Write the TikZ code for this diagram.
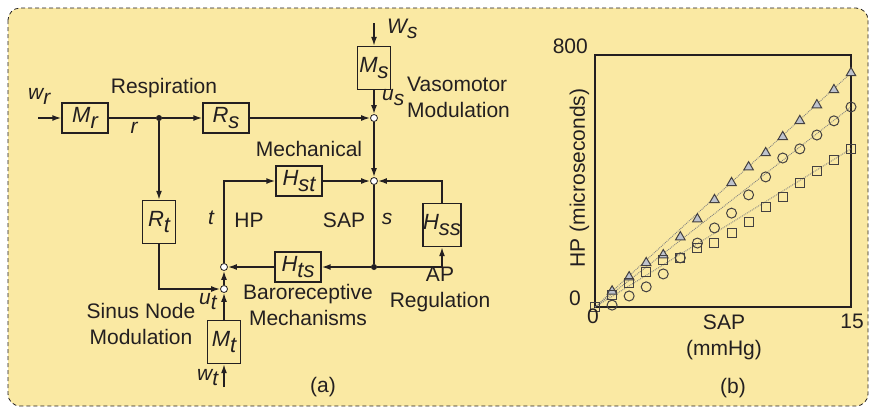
\documentclass[tikz,border=0pt]{standalone}
\usepackage{fontspec}
\setmainfont{Liberation Sans}
\usepackage{tikz}
\usetikzlibrary{arrows.meta,plotmarks}

\definecolor{panelbg}{RGB}{250,233,163}
\definecolor{ink}{RGB}{35,31,32}
\definecolor{markfill}{RGB}{190,195,205}
\newcommand{\sig}[2]{#1\raisebox{-0.25em}{#2}}
\newcommand{\txtsize}{\fontsize{21}{26}\selectfont}
\newcommand{\boxsize}{\fontsize{22}{24}\selectfont\itshape}

\begin{document}
\begin{tikzpicture}[x=1pt, y=-1pt, color=ink]
  \tikzstyle{wide} = [draw, line width=1.4pt, minimum width=46pt,
    minimum height=30pt, inner sep=0pt, font=\boxsize]
  \tikzstyle{tall} = [draw, line width=1.4pt, minimum width=33pt,
    minimum height=43pt, inner sep=0pt, font=\boxsize]
  \tikzstyle{sum} = [circle, draw, line width=0.8pt, fill=white,
    minimum size=7pt, inner sep=0pt]
  \tikzstyle{dot} = [circle, fill, minimum size=6pt, inner sep=0pt]
  \tikzstyle{arr} = [line width=1.5pt, -{Latex[length=9pt,width=6pt]}]
  \tikzstyle{wire} = [line width=1.5pt]
  \tikzstyle{txt} = [font=\txtsize, inner sep=0pt]
  \tikzstyle{var} = [font=\txtsize\itshape, inner sep=0pt]
  \tikzstyle{fit line} = [gray, densely dotted, line width=0.9pt]

  \useasboundingbox (0,0) rectangle (870,408);
  \draw[dash pattern=on 4pt off 3pt, line width=0.8pt, rounded corners=12pt,
    fill=panelbg] (8,8) rectangle (868,406);

  % (a) block diagram
  \node[wide] (Mr) at (85,118) {\sig{M}{r}};
  \node[wide] (Rs) at (226,118) {\sig{R}{s}};
  \node[tall] (Ms) at (374,68) {\sig{M}{s}};
  \node[wide] (Hst) at (299,181) {\sig{H}{st}};
  \node[wide] (Hts) at (298,267) {\sig{H}{ts}};
  \node[tall] (Hss) at (442,225) {\sig{H}{ss}};
  \node[tall] (Rt) at (159,222) {\sig{R}{t}};
  \node[tall] (Mt) at (224,342) {\sig{M}{t}};

  \node[dot] (jr) at (159,118) {};
  \node[dot] (js) at (374,267) {};
  \node[sum] (vs) at (374,118) {};
  \node[sum] (ps) at (374,181) {};
  \node[sum] (hs) at (224,267) {};
  \node[sum] (ts) at (224,289) {};

  \coordinate (wr) at (38,118);
  \coordinate (ws) at (374,23);
  \coordinate (wt) at (224,387);

  \draw[arr] (wr) -- (Mr);
  \draw[wire] (Mr) -- (jr);
  \draw[arr] (jr) -- (Rs);
  \draw[arr] (Rs) -- (vs);
  \draw[arr] (ws) -- (Ms);
  \draw[arr] (Ms) -- (vs);
  \draw[arr] (vs) -- (ps);
  \draw[wire] (ps) -- (js);
  \draw[arr] (js) -- (Hts);
  \draw[arr] (js) -| (Hss);
  \draw[arr] (Hss) |- (ps);
  \draw[arr] (Hts) -- (hs);
  \draw[arr] (hs) |- (Hst);
  \draw[arr] (Hst) -- (ps);
  \draw[arr] (jr) -- (Rt);
  \draw[arr] (Rt) |- (ts);
  \draw[arr] (Mt) -- (ts);
  \draw[arr] (ts) -- (hs);
  \draw[arr] (wt) -- (Mt);

  \node[var, anchor=base west] (lwr) at (28,99) {\sig{w}{r}};
  \node[var, anchor=base] (lr) at (134,133) {r};
  \node[var, anchor=base west] (lws) at (387,33) {\sig{W}{s}};
  \node[var, anchor=base west] (lus) at (382,100) {\sig{u}{s}};
  \node[var, anchor=base west] (lut) at (199,304) {\sig{u}{t}};
  \node[var, anchor=base west] (lwt) at (197,380) {\sig{w}{t}};
  \node[var, anchor=base] (lt) at (211,224) {t};
  \node[var, anchor=base] (ls) at (387,224) {s};

  \node[txt, anchor=base] (resp) at (164,93) {Respiration};
  \node[txt, anchor=north west, align=left] (vaso) at (407,77)
    {Vasomotor\\Modulation};
  \node[txt, anchor=base] (mech) at (309,156) {Mechanical};
  \node[txt, anchor=base] (hp) at (249,227) {HP};
  \node[txt, anchor=base] (sap) at (344,227) {SAP};
  \node[txt, anchor=north, align=center] (baro) at (308,284)
    {Baroreceptive\\Mechanisms};
  \node[txt, anchor=north, align=center] (apreg) at (440,267)
    {AP\\Regulation};
  \node[txt, anchor=north, align=center] (sinus) at (141,303)
    {Sinus Node\\Modulation};
  \node[txt, anchor=base] (capa) at (323,392) {(a)};

  % (b) HP versus SAP
  \begin{scope}[shift={(595,307)}, x=17.0667pt, y=0.315pt]
    \draw[line width=1.4pt] (0,0) rectangle (15,800);
    \draw[fit line] (0,0) -- (15,743);
    \draw[fit line] (0,0) -- (15,635);
    \draw[fit line] (0,0) -- (15,502);
    \draw[line width=1pt] plot[only marks, mark=triangle*,
      mark options={fill=markfill, draw=ink!85}, mark size=5.5pt] coordinates {
      (1,50) (2,95) (3,140) (4,165) (5,222) (6,279) (7,340) (8,394)
      (9,444) (10,489) (11,540) (12,591) (13,641) (14,689) (15,743)};
    \draw[line width=1pt] plot[only marks, mark=o,
      mark options={draw=ink!85}, mark size=5pt] coordinates {
      (1,6) (2,35) (3,64) (4,105) (5,156) (6,203) (7,251) (8,298)
      (9,356) (10,413) (11,473) (12,502) (13,546) (14,591) (15,635)};
    \draw[line width=1pt] plot[only marks, mark=square,
      mark options={draw=ink!85}, mark size=4.5pt] coordinates {
      (0,0) (1,38) (2,76) (3,111) (4,149) (5,156) (6,187) (7,203)
      (8,235) (9,270) (10,318) (11,349) (12,394) (13,432) (14,467) (15,502)};
  \end{scope}

  \node[txt, anchor=base east] (y800) at (588,53) {800};
  \node[txt, anchor=base] (y0) at (575,305) {0};
  \node[txt, anchor=base] (x0) at (593,323) {0};
  \node[txt, anchor=base] (x15) at (852,328) {15};
  \node[txt, anchor=north, align=center] (xlab) at (724,315)
    {SAP\\(mmHg)};
  \node[txt, rotate=90] (ylab) at (579.5,178) {HP (microseconds)};
  \node[txt, anchor=base] (capb) at (733,393) {(b)};
\end{tikzpicture}
\end{document}
